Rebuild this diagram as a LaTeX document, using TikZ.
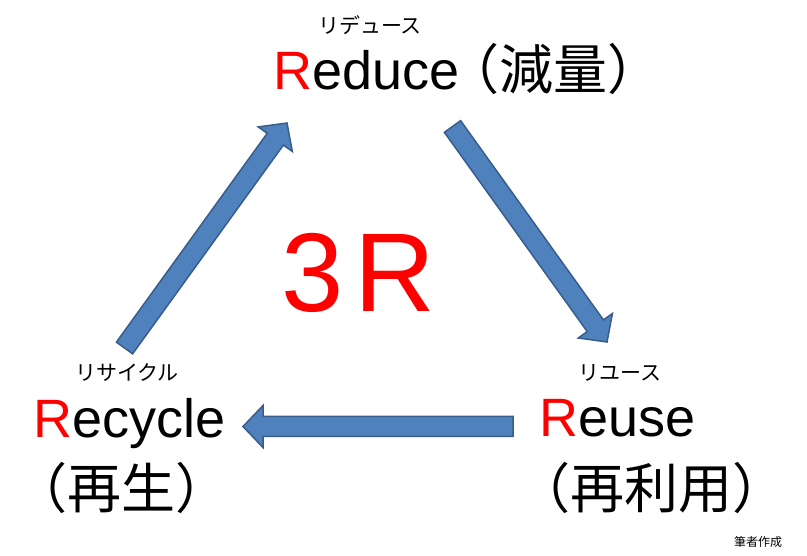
\documentclass[tikz,border=0pt]{standalone}
\usepackage{fontspec}
\setmainfont{Liberation Sans}
\newfontfamily\jp{Noto Sans CJK JP}
\usetikzlibrary{calc}
\definecolor{arrowblue}{HTML}{4F81BD}
\definecolor{arrowedge}{HTML}{385D8A}
\tikzset{
	blk/.style={fill=arrowblue, draw=arrowedge, line width=1.5pt, line join=miter},
	word/.style={inner sep=0pt, anchor=base west, font=\fontsize{54}{60}\selectfont},
	jpword/.style={inner sep=0pt, anchor=base west, font=\jp\fontsize{54}{60}\selectfont},
	kana/.style={inner sep=0pt, font=\jp\fontsize{21}{24}\selectfont},
}
\def\blockarrow(#1)(#2){%
	\coordinate (hb) at ($(#2)!20pt!(#1)$);
	\draw[blk] ($(#1)!10pt!90:(#2)$) -- ($(hb)!10pt!90:(#2)$) -- ($(hb)!21pt!90:(#2)$) -- (#2)
		-- ($(hb)!21pt!-90:(#2)$) -- ($(hb)!10pt!-90:(#2)$) -- ($(#1)!10pt!-90:(#2)$) -- cycle;}

\begin{document}
\begin{tikzpicture}[x=1pt, y=-1pt]
		%%%%% START %%%%%
		
		\path[fill=white, use as bounding box] (0, 0) rectangle (807, 556);
		
		\node[kana] (reduceKana) at (370, 25) {リデュース};
		\node[word] (reduce) at (273, 90) {\textcolor{red}{R}educe\kern-14pt{\jp （減量）}};
		
		\node[kana] (recycleKana) at (127, 373) {リサイクル};
		\node[word] (recycle) at (33, 438) {\textcolor{red}{R}ecycle};
		\node[jpword] (recycleJp) at (13, 508) {（再生）};
		
		\node[kana] (reuseKana) at (620, 373) {リユース};
		\node[word] (reuse) at (539, 437) {\textcolor{red}{R}euse};
		\node[jpword] (reuseJp) at (516, 508) {（再利用）};
		
		\node[inner sep=0pt, anchor=base west, text=red, font=\fontsize{112}{120}\selectfont] (title) at (281, 312) {3\kern11pt R};
		
		\node[inner sep=0pt, font=\jp\fontsize{12}{14}\selectfont] (source) at (758, 542) {筆者作成};
		
		\coordinate (upTail) at (124.5, 348);
		\coordinate (upTip) at (287, 123);
		\coordinate (downTail) at (452.5, 126.5);
		\coordinate (downTip) at (607, 342);
		\coordinate (backTail) at (513, 426.5);
		\coordinate (backTip) at (243, 426.5);
		
		\blockarrow(upTail)(upTip)
		\blockarrow(downTail)(downTip)
		\blockarrow(backTail)(backTip)
		
		%%%%% END %%%%%
	\end{tikzpicture}
\end{document}
